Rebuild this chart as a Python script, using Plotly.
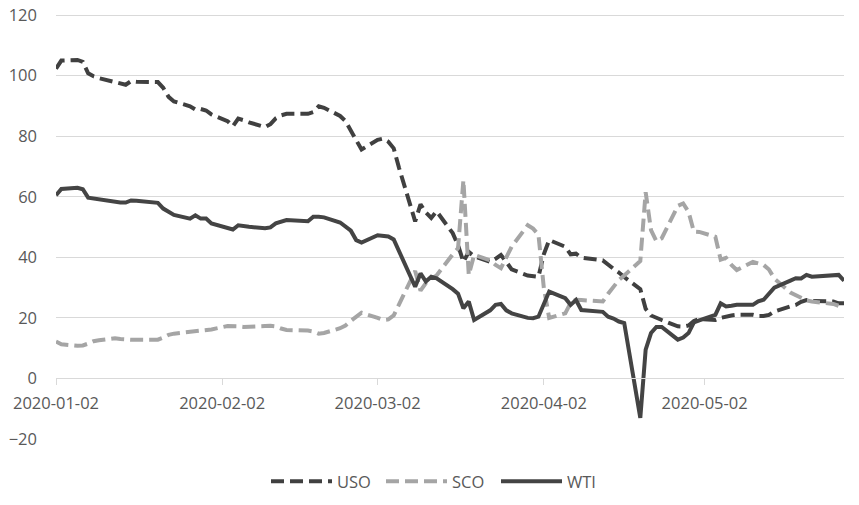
import plotly.graph_objects as go

dates = [
    "2020-01-02", "2020-01-03", "2020-01-06", "2020-01-07", "2020-01-08", "2020-01-09", "2020-01-10",
    "2020-01-13", "2020-01-14", "2020-01-15", "2020-01-16", "2020-01-17", "2020-01-21", "2020-01-22",
    "2020-01-23", "2020-01-24", "2020-01-27", "2020-01-28", "2020-01-29", "2020-01-30", "2020-01-31",
    "2020-02-03", "2020-02-04", "2020-02-05", "2020-02-06", "2020-02-07", "2020-02-10", "2020-02-11",
    "2020-02-12", "2020-02-13", "2020-02-14", "2020-02-18", "2020-02-19", "2020-02-20", "2020-02-21",
    "2020-02-24", "2020-02-25", "2020-02-26", "2020-02-27", "2020-02-28",
    "2020-03-02", "2020-03-03", "2020-03-04", "2020-03-05", "2020-03-06", "2020-03-09", "2020-03-10",
    "2020-03-11", "2020-03-12", "2020-03-13", "2020-03-16", "2020-03-17", "2020-03-18", "2020-03-19",
    "2020-03-20", "2020-03-23", "2020-03-24", "2020-03-25", "2020-03-26", "2020-03-27", "2020-03-30",
    "2020-03-31",
    "2020-04-01", "2020-04-02", "2020-04-03", "2020-04-06", "2020-04-07", "2020-04-08", "2020-04-09",
    "2020-04-13", "2020-04-14", "2020-04-15", "2020-04-16", "2020-04-17", "2020-04-20", "2020-04-21",
    "2020-04-22", "2020-04-23", "2020-04-24", "2020-04-27", "2020-04-28", "2020-04-29", "2020-04-30",
    "2020-05-01", "2020-05-04", "2020-05-05", "2020-05-06", "2020-05-07", "2020-05-08", "2020-05-11",
    "2020-05-12", "2020-05-13", "2020-05-14", "2020-05-15", "2020-05-18", "2020-05-19", "2020-05-20",
    "2020-05-21", "2020-05-22", "2020-05-26", "2020-05-27", "2020-05-28",
]

uso = [
    102.3, 105.0, 105.2, 104.6, 100.8, 99.8, 99.2,
    98.0, 97.5, 97.0, 98.2, 98.0, 97.9, 96.0,
    93.0, 91.5, 89.9, 88.8, 89.0, 88.5, 87.2,
    85.0, 83.3, 85.8, 85.3, 84.6, 83.0, 84.0,
    85.9, 86.9, 87.4, 87.4, 88.0, 89.9, 89.4,
    86.7, 85.0, 82.0, 78.5, 75.6,
    78.8, 79.2, 78.2, 76.0, 69.5, 51.9, 57.5,
    54.8, 53.0, 55.2, 48.0, 44.0, 38.5, 41.8,
    40.3, 38.5, 39.5, 40.8, 38.5, 36.0, 34.0,
    33.8,
    33.6, 41.0, 45.7, 43.5, 41.0, 41.2, 39.9,
    39.0, 37.5, 36.2, 35.0, 33.5, 29.5, 23.0,
    20.8, 20.2, 19.3, 17.2, 17.1, 17.5, 19.0,
    19.6, 19.3, 20.0, 20.5, 20.8, 21.0, 21.0,
    20.6, 20.6, 21.0, 22.1, 23.8, 24.3, 25.3,
    25.9, 25.6, 25.4, 24.8, 24.8,
]

sco = [
    12.2, 11.3, 10.8, 10.9, 11.5, 12.3, 12.6,
    13.3, 13.0, 12.8, 12.8, 12.8, 12.8, 13.5,
    14.4, 14.8, 15.4, 15.5, 15.7, 15.9, 16.2,
    17.3, 17.4, 17.2, 17.0, 17.0, 17.3, 17.4,
    17.2, 16.5, 16.0, 15.8, 15.5, 14.8, 15.0,
    16.6, 17.5, 19.0, 20.5, 21.7,
    20.0, 19.3, 19.5, 20.8, 24.5, 35.5, 29.0,
    31.5, 33.0, 34.0, 41.0, 43.0, 65.5, 34.2,
    40.8, 39.0, 37.5, 36.4, 40.0, 43.5, 50.6,
    49.5,
    47.5, 30.0, 20.0, 21.5, 25.0, 26.0, 25.9,
    25.4, 28.0, 30.5, 32.5, 34.0, 38.8, 61.5,
    49.0, 45.3, 46.3, 57.0, 57.8, 55.0, 48.5,
    48.4, 46.8, 39.2, 39.8, 37.5, 35.8, 38.5,
    38.0, 37.5, 36.0, 33.0, 28.4, 27.5, 26.5,
    25.8, 25.4, 24.6, 24.0, 23.7,
]

wti = [
    60.5, 62.6, 63.0, 62.5, 59.7, 59.4, 59.1,
    58.2, 58.1, 58.1, 58.8, 58.7, 58.0, 56.1,
    55.0, 54.0, 52.8, 53.9, 52.8, 52.8, 51.2,
    49.8, 49.2, 50.6, 50.3, 50.1, 49.6, 49.9,
    51.2, 51.6, 52.3, 51.9, 53.4, 53.4, 53.2,
    51.5, 50.0, 48.8, 45.7, 44.9,
    47.3, 47.2, 46.9, 45.9, 42.0, 30.3, 34.7,
    32.0, 33.6, 33.1, 29.5, 28.0, 23.2, 25.4,
    19.3, 22.5, 24.3, 24.6, 22.5, 21.5, 20.0,
    19.9,
    20.4, 24.5, 28.7, 26.5, 24.3, 25.9, 22.6,
    22.0, 20.4, 19.8, 18.8, 18.3, -13.0, 9.5,
    15.0, 17.0, 17.0, 12.8, 13.5, 15.0, 18.5,
    19.2, 21.0, 24.8, 23.8, 24.0, 24.3, 24.3,
    25.5, 26.0, 28.1, 30.0, 32.3, 33.1, 33.0,
    34.2, 33.6, 34.0, 34.2, 32.3,
]

y_ticks = [-20, 0, 20, 40, 60, 80, 100, 120]
x_ticks = ["2020-01-02", "2020-02-02", "2020-03-02", "2020-04-02", "2020-05-02"]

FONT = "Open Sans"
TXT = "#595959"
GRID = "#d9d9d9"

fig = go.Figure()
fig.add_trace(go.Scatter(x=dates, y=uso, name="USO", mode="lines",
                         line=dict(color="#404040", width=4, dash="13px,6px")))
fig.add_trace(go.Scatter(x=dates, y=sco, name="SCO", mode="lines",
                         line=dict(color="#a5a5a5", width=4, dash="13px,6px")))
fig.add_trace(go.Scatter(x=dates, y=wti, name="WTI", mode="lines",
                         line=dict(color="#444444", width=4)))

ymin, ymax = -20, 120.7
fig.update_layout(
    width=843, height=489,
    margin=dict(l=48, r=7, t=5, b=58, autoexpand=False),
    paper_bgcolor="white", plot_bgcolor="white",
    font=dict(family=FONT, size=16.5, color=TXT),
    showlegend=True,
    legend=dict(orientation="h", x=0.2665, xanchor="left", y=-0.1, yanchor="middle",
                font=dict(family=FONT, size=16.5, color=TXT), itemwidth=61,
                entrywidth=39, bgcolor="rgba(0,0,0,0)"),
    xaxis=dict(
        type="date",
        range=["2020-01-02", "2020-05-28"],
        tickvals=x_ticks, ticktext=x_ticks,
        showgrid=False, zeroline=False,
        showline=True, linecolor=GRID, linewidth=1,
        ticks="outside", ticklen=6, tickcolor=GRID,
        anchor="free", position=(0 - ymin) / (ymax - ymin),
        ticklabelstandoff=4,
        tickfont=dict(family=FONT, size=16.5, color=TXT),
    ),
    yaxis=dict(
        range=[ymin, ymax], tickvals=y_ticks,
        showgrid=True, gridcolor=GRID, gridwidth=1,
        zeroline=False, showline=False, ticks="",
        ticklabelstandoff=18, ticklabeloverflow="allow",
        tickfont=dict(family=FONT, size=16.5, color=TXT),
    ),
)

fig.write_html("out.html")
